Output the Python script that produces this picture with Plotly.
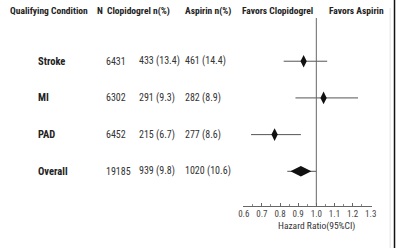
import plotly.graph_objects as go

conditions = ["Stroke", "MI", "PAD", "Overall"]
n_total = ["6431", "6302", "6452", "19185"]
clopidogrel = ["433 (13.4)", "291 (9.3)", "215 (6.7)", "939 (9.8)"]
aspirin = ["461 (14.4)", "282 (8.9)", "277 (8.6)", "1020 (10.6)"]
hr = [0.93, 1.04, 0.77, 0.915]
ci_low = [0.82, 0.885, 0.64, 0.84]
ci_high = [1.06, 1.23, 0.915, 1.0]
rows = [4, 3, 2, 1]
headers = ["Qualifying Condition", "N", "Clopidogrel n(%)", "Aspirin n(%)",
           "Favors Clopidogrel", "Favors Aspirin"]
tick_vals = [0.6, 0.7, 0.8, 0.9, 1.0, 1.1, 1.2, 1.3]

FONT = "Roboto Condensed, DejaVu Sans Condensed, sans-serif"
W, H = 400, 248

fig = go.Figure()

# individual subgroups
for i in range(3):
    fig.add_trace(go.Scatter(
        x=[hr[i]], y=[rows[i]], mode="markers",
        marker=dict(symbol="diamond-tall", size=9, color="#111"),
        error_x=dict(type="data", symmetric=False,
                     array=[ci_high[i] - hr[i]], arrayminus=[hr[i] - ci_low[i]],
                     width=0, thickness=1, color="#555"),
        showlegend=False, hoverinfo="skip"))
fig.add_trace(go.Scatter(
    x=[hr[3]], y=[rows[3]], mode="markers",
    marker=dict(symbol="diamond-wide", size=15, color="#111"),
    error_x=dict(type="data", symmetric=False,
                 array=[ci_high[3] - hr[3]], arrayminus=[hr[3] - ci_low[3]],
                 width=0, thickness=1, color="#555"),
    showlegend=False, hoverinfo="skip"))

ann = []
def px(x):
    return x / W
def py(y):
    return (H - y) / H

hdr_x = [3, 92, 103, 183, 241, 330]
for t, x in zip(headers, hdr_x):
    ann.append(dict(text="<b>%s</b>" % t, x=px(x), y=py(11), xref="paper", yref="paper",
                    xanchor="left", yanchor="middle", showarrow=False,
                    font=dict(family=FONT, size=9.5, color="#222")))

for i in range(4):
    ann.append(dict(text="<b>%s</b>" % conditions[i], x=px(32), y=rows[i], xref="paper", yref="y",
                    xanchor="left", yanchor="middle", showarrow=False,
                    font=dict(family=FONT, size=10.5, color="#222")))
    for t, x in [(n_total[i], 102), (clopidogrel[i], 135), (aspirin[i], 183)]:
        ann.append(dict(text=t, x=px(x), y=rows[i], xref="paper", yref="y",
                        xanchor="left", yanchor="middle", showarrow=False,
                        font=dict(family=FONT, size=10, color="#333")))

ann.append(dict(text="Hazard Ratio(95%CI)", x=1.0, y=py(226), xref="x", yref="paper",
                xanchor="center", yanchor="middle", showarrow=False,
                font=dict(family=FONT, size=9.5, color="#333")))

shapes = [
    dict(type="line", x0=1.0, x1=1.0, xref="x", y0=py(18), y1=py(205.5), yref="paper",
         line=dict(color="#666", width=1)),
    dict(type="line", x0=px(399.5), x1=px(399.5), xref="paper", y0=0, y1=1, yref="paper",
         line=dict(color="#111", width=1.5)),
    dict(type="line", x0=px(395), x1=px(395), xref="paper", y0=0, y1=py(8), yref="paper",
         line=dict(color="#e4e4e4", width=1)),
]

fig.update_layout(
    width=W, height=H, margin=dict(l=0, r=0, t=0, b=0),
    paper_bgcolor="white", plot_bgcolor="white",
    annotations=ann, shapes=shapes,
    xaxis=dict(domain=[px(244), px(376)], range=[0.5952, 1.3048],
               tickvals=tick_vals, ticktext=["%.1f" % v for v in tick_vals],
               ticks="inside", ticklen=3, tickcolor="#666",
               minor=dict(dtick=0.05, tick0=0.6, ticks="inside", ticklen=2, tickcolor="#888"),
               showline=True, linecolor="#666", linewidth=1, showgrid=False, zeroline=False,
               tickfont=dict(family=FONT, size=9, color="#444"), anchor="y"),
    yaxis=dict(domain=[py(205.5), py(18)], range=[0.068, 5.178],
               visible=False, showgrid=False, zeroline=False),
)

fig.write_html("out.html")
